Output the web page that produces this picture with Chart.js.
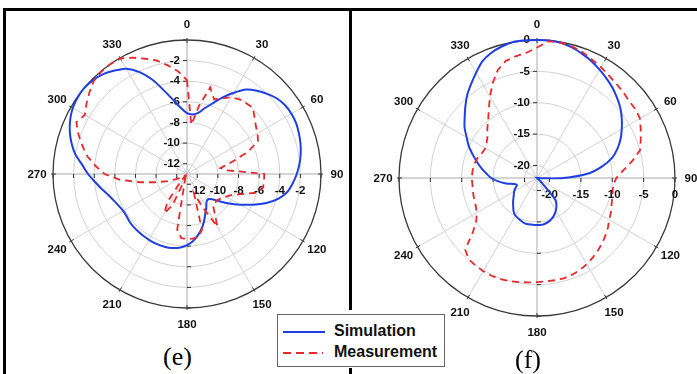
<!DOCTYPE html>
<html>
<head>
<meta charset="utf-8">
<script src="https://cdn.jsdelivr.net/npm/chart.js@4.4.1/dist/chart.umd.min.js"></script>
<style>
html,body{margin:0;padding:0;background:#fff;}
body{width:697px;height:374px;position:relative;overflow:hidden;font-family:"Liberation Sans",Arial,sans-serif;}
.bar{position:absolute;background:#000;}
canvas{position:absolute;}
#c1{left:22px;top:9px;}
#c2{left:367px;top:8px;}
.legend{position:absolute;left:277px;top:314px;width:168px;height:53px;border:1px solid #666;background:#fff;box-sizing:border-box;}
.legend svg{position:absolute;left:5px;}
.legend span{position:absolute;left:56px;font-weight:bold;font-size:16px;color:#111;line-height:18px;}
.cap{position:absolute;font-family:"Liberation Serif","Times New Roman",serif;font-size:26px;color:#000;line-height:28px;}
</style>
</head>
<body>
<canvas id="c1" width="330" height="330"></canvas>
<canvas id="c2" width="340" height="340"></canvas>
<div class="bar" style="left:3px;top:8px;width:694px;height:3px;"></div>
<div class="bar" style="left:3px;top:8px;width:3px;height:366px;"></div>
<div class="bar" style="left:349px;top:8px;width:3px;height:302px;"></div>
<div class="bar" style="left:349px;top:368px;width:3px;height:6px;"></div>
<div class="legend">
  <svg style="top:15px" width="44" height="4"><line x1="0" y1="2" x2="42" y2="2" stroke="#1f3fe0" stroke-width="2.2"/></svg>
  <span style="top:7px">Simulation</span>
  <svg style="top:36px" width="44" height="4"><line x1="0" y1="2" x2="40" y2="2" stroke="#e8282a" stroke-width="2" stroke-dasharray="8,5"/></svg>
  <span style="top:28px">Measurement</span>
</div>
<div class="cap" style="left:163px;top:343px;">(e)</div>
<div class="cap" style="left:515px;top:346px;">(f)</div>
<script>
// angle categories (degrees, clockwise from top)
const angles = [0,5,10,15,20,25,30,35,40,45,50,55,60,65,70,75,80,85,90,95,100,105,110,115,120,125,130,135,140,145,150,155,160,165,170,175,180,185,190,195,200,205,210,215,220,225,230,235,240,245,250,255,260,265,270,275,280,285,290,295,300,305,310,315,320,325,330,335,340,345,350,355];

// (e) values in dB
const eSimulation = [-7.1,-7.2,-7.0,-6.4,-5.7,-4.8,-3.9,-3.0,-2.45,-2.0,-1.6,-1.38,-1.3,-1.32,-1.45,-1.6,-1.8,-2.05,-2.35,-2.7,-3.1,-3.8,-4.8,-5.95,-7.05,-8.0,-8.9,-9.55,-9.8,-9.7,-9.25,-8.8,-8.15,-7.5,-6.95,-6.45,-6.1,-5.85,-5.7,-5.62,-5.6,-5.6,-5.63,-5.65,-5.68,-5.7,-5.75,-5.85,-5.85,-5.7,-5.45,-5.1,-4.6,-4.05,-3.4,-2.8,-2.0,-1.4,-0.9,-0.5,-0.2,-0.05,0,-0.12,-0.35,-0.75,-1.2,-2.1,-3.3,-4.7,-5.8,-6.6];
const eMeasurement = [-3.9,-8.2,-6.3,-4.3,-5.3,-4.9,-4.4,-4.15,-4.05,-3.95,-4.45,-4.85,-5.1,-5.4,-6.7,-8.5,-9.7,-9.0,-5.5,-5.5,-5.5,-6.0,-7.3,-8.2,-8.6,-8.9,-9.1,-9.1,-9.1,-8.3,-7.1,-9.5,-11.0,-7.4,-6.8,-6.7,-6.7,-6.75,-7.5,-12.0,-12.5,-9.7,-8.6,-9.7,-12.0,-12.8,-12.8,-12.5,-12.2,-11.8,-11.0,-9.9,-8.4,-6.5,-5.0,-4.1,-3.2,-2.5,-1.8,-1.15,-1.55,-1.1,-0.65,-0.22,-0.05,0,-0.05,-0.55,-1.1,-1.6,-2.3,-3.0];

// (f) values in dB
const fSimulation = [0,0,-0.1,-0.45,-0.95,-1.45,-2.05,-2.65,-3.25,-3.95,-4.65,-5.5,-6.4,-7.3,-8.35,-9.6,-11.5,-13.8,-17.8,-21.5,-22,-22,-22,-22,-22,-22,-22,-21,-17.4,-16.6,-16.0,-15.5,-15.1,-14.8,-14.6,-14.5,-14.5,-14.5,-14.5,-14.5,-14.7,-14.9,-15.1,-15.5,-16.1,-16.6,-17.1,-17.5,-17.8,-18.2,-18.6,-18.3,-17.0,-15.8,-14.7,-13.9,-13.0,-12.1,-11.1,-10.0,-9.05,-7.9,-6.95,-5.85,-4.7,-3.7,-2.6,-1.45,-0.75,-0.3,0,0];
const fMeasurement = [-1.2,-0.1,-0.1,-0.3,-0.65,-1.2,-1.6,-2.05,-2.35,-2.6,-2.85,-2.85,-3.05,-3.75,-4.4,-5.0,-6.6,-8.2,-9.35,-9.8,-9.75,-9.6,-9.35,-9.0,-8.7,-8.2,-7.75,-7.3,-6.9,-6.5,-6.15,-5.8,-5.6,-5.45,-5.45,-5.45,-5.4,-5.3,-5.15,-5.0,-4.85,-4.8,-4.85,-4.95,-5.1,-5.8,-8.7,-10.2,-10.9,-11.25,-11.4,-11.5,-11.6,-11.65,-11.6,-11.65,-11.7,-11.85,-12.05,-12.4,-12.5,-12.2,-11.7,-10.8,-9.9,-8.6,-7.0,-5.3,-3.7,-2.7,-2.3,-2.0];

// rings and tick labels
const eRings = [-12,-10,-8,-6,-4,-2,0];
const eTopLabels = [-2,-4,-6,-8,-10,-12];
const eSideLabels = [-12,-10,-8,-6,-4,-2];
const fRings = [-20,-15,-10,-5,0];
const fTopLabels = [0,-5,-10,-15,-20];
const fSideLabels = [-20,-15,-10,-5,0];

const BLUE = '#1f3fe0';
const RED = '#e8282a';
const FONT = '"Liberation Sans", Arial, sans-serif';

// draws radial tick labels, tick marks and the angle labels (every 30 deg)
const axisLabels = {
  id: 'axisLabels',
  beforeDatasetsDraw(chart, args, o) {
    const s = chart.scales.r;
    const ctx = chart.ctx;
    const cx = s.xCenter, cy = s.yCenter;
    ctx.save();
    ctx.strokeStyle = '#333';
    ctx.lineWidth = 1;
    o.rings.forEach(v => {
      const d = s.getDistanceFromCenterForValue(v);
      ctx.beginPath();
      ctx.moveTo(cx - 4, cy - d); ctx.lineTo(cx, cy - d);
      ctx.moveTo(cx + d, cy); ctx.lineTo(cx + d, cy + 4);
      ctx.moveTo(cx - d, cy); ctx.lineTo(cx - d, cy + 4);
      ctx.moveTo(cx, cy + d); ctx.lineTo(cx + 4, cy + d);
      ctx.stroke();
    });
    // small ticks on the outer circle at the labelled angles
    const outer = s.getDistanceFromCenterForValue(s.max);
    ctx.beginPath();
    s._pointLabels.forEach((lab, i) => {
      if (i % 6 !== 0) return;
      const p1 = s.getPointPosition(i, outer - 3);
      const p2 = s.getPointPosition(i, outer + 2);
      ctx.moveTo(p1.x, p1.y); ctx.lineTo(p2.x, p2.y);
    });
    ctx.stroke();

    ctx.font = 'bold 11.5px ' + FONT;
    ctx.fillStyle = '#111';
    ctx.textBaseline = 'middle';
    ctx.textAlign = 'right';
    o.top.forEach(v => {
      const d = s.getDistanceFromCenterForValue(v);
      ctx.fillText(String(v), cx - 7, cy - d);
    });
    ctx.textAlign = 'center';
    o.side.forEach(v => {
      const d = s.getDistanceFromCenterForValue(v);
      ctx.fillText(String(v), cx + d, cy + 17);
    });
    // angle labels
    s._pointLabels.forEach((lab, i) => {
      if (i % 6 !== 0) return;
      const p = s.getPointPosition(i, outer + 16);
      ctx.fillText(String(lab), p.x, p.y + 1);
    });
    ctx.restore();
  }
};

function makeChart(id, sim, meas, min, rings, top, side, pad) {
  return new Chart(document.getElementById(id), {
    type: 'radar',
    data: {
      labels: angles,
      datasets: [
        {label: 'Simulation', data: sim, borderColor: BLUE, borderWidth: 2, pointRadius: 0, fill: false, tension: 0.3, order: 1},
        {label: 'Measurement', data: meas, borderColor: RED, borderWidth: 1.8, borderDash: [7, 5], pointRadius: 0, fill: false, tension: 0, order: 0}
      ]
    },
    options: {
      responsive: false,
      animation: false,
      devicePixelRatio: 1,
      layout: {padding: pad},
      plugins: {
        legend: {display: false},
        tooltip: {enabled: false},
        axisLabels: {rings: rings, top: top, side: side}
      },
      scales: {
        r: {
          min: min,
          max: 0,
          startAngle: 0,
          afterBuildTicks: (scale) => { scale.ticks = rings.map(v => ({value: v})); },
          ticks: {display: false},
          grid: {
            circular: true,
            color: (c) => (c.tick && c.tick.value === 0) ? '#3a3a3a' : '#d2d2d2',
            lineWidth: (c) => (c.tick && c.tick.value === 0) ? 1.3 : 1
          },
          angleLines: {
            display: true,
            color: (c) => (c.index % 18 === 0) ? '#aaaaaa' : '#d2d2d2',
            lineWidth: (c) => (c.index % 6 === 0) ? 1 : 0
          },
          pointLabels: {
            display: false,
            callback: (label, index) => String(label)
          }
        }
      }
    },
    plugins: [axisLabels]
  });
}

makeChart('c1', eSimulation, eMeasurement, -13, eRings, eTopLabels, eSideLabels, 31);
makeChart('c2', fSimulation, fMeasurement, -22, fRings, fTopLabels, fSideLabels, 32);
</script>
</body>
</html>
